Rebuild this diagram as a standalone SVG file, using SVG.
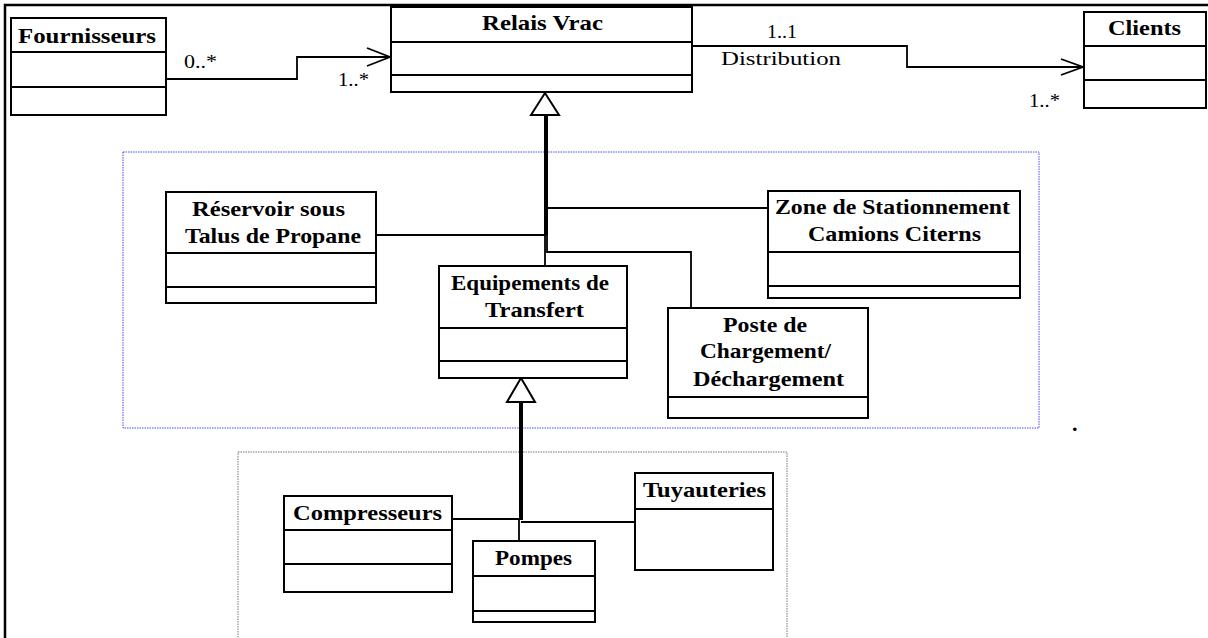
<svg xmlns="http://www.w3.org/2000/svg" width="1208" height="638" viewBox="0 0 1208 638">
<style>
.box{fill:#fff;stroke:#000;stroke-width:2}
.div{stroke:#000;stroke-width:2;fill:none}
.t{font-family:"Liberation Serif","Times New Roman",serif;font-weight:bold;font-size:22px;fill:#000}
.r{font-family:"Liberation Serif","Times New Roman",serif;font-size:19px;fill:#000}
.ln{stroke:#000;stroke-width:1.8;fill:none}
.thick{stroke:#000;stroke-width:4;fill:none}
.tri{fill:#fff;stroke:#000;stroke-width:2}
</style>
<rect width="1208" height="638" fill="#fff"/>
<rect x="5" y="5" width="1215" height="650" fill="none" stroke="#000" stroke-width="2.5"/>
<rect x="123" y="152" width="916" height="276" fill="none" stroke="#4a4aff" stroke-width="1" stroke-dasharray="1.5,1"/>
<rect x="238" y="452" width="549" height="210" fill="none" stroke="#777" stroke-width="1" stroke-dasharray="1.5,1"/>

<g id="connectors">
<polyline class="ln" points="166,79 297,79 297,57 390,57"/>
<polyline class="ln" points="367,48 390,57 367,66"/>
<polyline class="ln" points="692,46 907,46 907,67 1083,67"/>
<polyline class="ln" points="1061,59 1083,67 1061,75"/>
<line class="thick" x1="546" y1="115" x2="546" y2="235"/>
<line class="ln" x1="545" y1="235" x2="545" y2="266"/>
<line class="ln" x1="376" y1="235" x2="546" y2="235"/>
<line class="ln" x1="546" y1="208" x2="768" y2="208"/>
<polyline class="ln" points="547,235 547,252 691,252 691,308"/>
<polygon class="tri" points="545,93 531,115 559,115"/>
<line class="thick" x1="521" y1="402" x2="521" y2="520"/>
<line class="ln" x1="452" y1="519" x2="521" y2="519"/>
<line class="ln" x1="519" y1="519" x2="519" y2="541"/>
<line class="ln" x1="521" y1="522" x2="635" y2="522"/>
<polygon class="tri" points="521,378 507,402 535,402"/>
<text class="r" x="184" y="68" textLength="33" lengthAdjust="spacingAndGlyphs">0..*</text>
<text class="r" x="338" y="86" textLength="31" lengthAdjust="spacingAndGlyphs">1..*</text>
<text class="r" x="767" y="38" textLength="30" lengthAdjust="spacingAndGlyphs">1..1</text>
<text class="r" x="721" y="65" textLength="120" lengthAdjust="spacingAndGlyphs">Distribution</text>
<text class="r" x="1029" y="107" textLength="31" lengthAdjust="spacingAndGlyphs">1..*</text>
</g>

<g id="fournisseurs">
<rect class="box" x="11" y="18" width="155" height="97"/>
<line class="div" x1="11" y1="52" x2="166" y2="52"/>
<line class="div" x1="11" y1="87" x2="166" y2="87"/>
<text class="t" x="18" y="43" textLength="138" lengthAdjust="spacingAndGlyphs">Fournisseurs</text>
</g>

<g id="relais-vrac">
<rect class="box" x="391" y="7" width="301" height="85"/>
<line class="div" x1="391" y1="42" x2="692" y2="42"/>
<line class="div" x1="391" y1="75" x2="692" y2="75"/>
<text class="t" x="482" y="30" textLength="121" lengthAdjust="spacingAndGlyphs">Relais Vrac</text>
</g>

<g id="clients">
<rect class="box" x="1084" y="12" width="122" height="96"/>
<line class="div" x1="1084" y1="46" x2="1206" y2="46"/>
<line class="div" x1="1084" y1="80" x2="1206" y2="80"/>
<text class="t" x="1108" y="35" textLength="73" lengthAdjust="spacingAndGlyphs">Clients</text>
</g>

<g id="reservoir">
<rect class="box" x="166" y="192" width="210" height="111"/>
<line class="div" x1="166" y1="253" x2="376" y2="253"/>
<line class="div" x1="166" y1="287" x2="376" y2="287"/>
<text class="t" x="192" y="216" textLength="153" lengthAdjust="spacingAndGlyphs">Réservoir sous</text>
<text class="t" x="185" y="243" textLength="176" lengthAdjust="spacingAndGlyphs">Talus de Propane</text>
</g>

<g id="equipements">
<rect class="box" x="439" y="266" width="188" height="112"/>
<line class="div" x1="439" y1="328" x2="627" y2="328"/>
<line class="div" x1="439" y1="361" x2="627" y2="361"/>
<text class="t" x="451" y="290" textLength="158" lengthAdjust="spacingAndGlyphs">Equipements de</text>
<text class="t" x="485" y="317" textLength="99" lengthAdjust="spacingAndGlyphs">Transfert</text>
</g>

<g id="zone">
<rect class="box" x="768" y="191" width="252" height="107"/>
<line class="div" x1="768" y1="252" x2="1020" y2="252"/>
<line class="div" x1="768" y1="286" x2="1020" y2="286"/>
<text class="t" x="775" y="214" textLength="235" lengthAdjust="spacingAndGlyphs">Zone de Stationnement</text>
<text class="t" x="808" y="241" textLength="173" lengthAdjust="spacingAndGlyphs">Camions Citerns</text>
</g>

<g id="poste">
<rect class="box" x="668" y="308" width="200" height="110"/>
<line class="div" x1="668" y1="397" x2="868" y2="397"/>
<text class="t" x="723" y="332" textLength="84" lengthAdjust="spacingAndGlyphs">Poste de</text>
<text class="t" x="700" y="358" textLength="131" lengthAdjust="spacingAndGlyphs">Chargement/</text>
<text class="t" x="693" y="386" textLength="151" lengthAdjust="spacingAndGlyphs">Déchargement</text>
</g>

<g id="compresseurs">
<rect class="box" x="284" y="496" width="168" height="96"/>
<line class="div" x1="284" y1="530" x2="452" y2="530"/>
<line class="div" x1="284" y1="564" x2="452" y2="564"/>
<text class="t" x="293" y="520" textLength="149" lengthAdjust="spacingAndGlyphs">Compresseurs</text>
</g>

<g id="pompes">
<rect class="box" x="473" y="541" width="122" height="81"/>
<line class="div" x1="473" y1="576" x2="595" y2="576"/>
<line class="div" x1="473" y1="611" x2="595" y2="611"/>
<text class="t" x="495" y="565" textLength="77" lengthAdjust="spacingAndGlyphs">Pompes</text>
</g>

<g id="tuyauteries">
<rect class="box" x="635" y="473" width="138" height="97"/>
<line class="div" x1="635" y1="509" x2="773" y2="509"/>
<text class="t" x="643" y="497" textLength="123" lengthAdjust="spacingAndGlyphs">Tuyauteries</text>
</g>

<text class="t" x="1072" y="431">.</text>
</svg>
